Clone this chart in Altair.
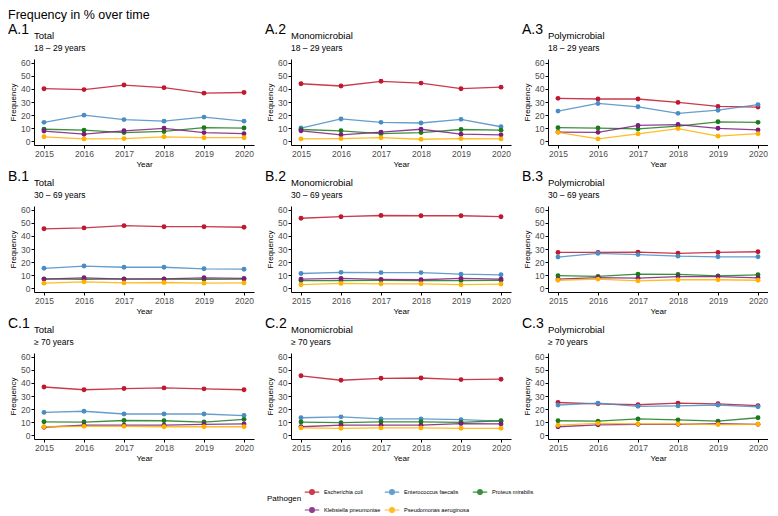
import altair as alt
import pandas as pd

years = [2015, 2016, 2017, 2018, 2019, 2020]
pathogens = ["Escherichia coli", "Enterococcus faecalis", "Proteus mirabilis",
             "Klebsiella pneumoniae", "Pseudomonas aeruginosa"]
colors = ["#C0182E", "#4A8CC4", "#1B7B1B", "#7A1E7A", "#FFB000"]

panel_labels = [["A.1", "A.2", "A.3"], ["B.1", "B.2", "B.3"], ["C.1", "C.2", "C.3"]]
types = ["Total", "Monomicrobial", "Polymicrobial"]
ages = ["18 – 29 years", "30 – 69 years", "≥ 70 years"]

# values per panel, order of pathogens as above
A1 = [[40.2, 39.5, 43.0, 41.0, 36.8, 37.3],
      [14.4, 19.9, 16.5, 15.3, 18.4, 15.3],
      [9.1, 8.4, 6.5, 7.4, 10.3, 10.0],
      [7.7, 5.3, 7.9, 9.8, 6.5, 5.7],
      [3.3, 1.7, 1.9, 3.3, 2.6, 2.6]]
A2 = [[44.0, 42.3, 45.9, 44.5, 40.2, 41.4],
      [10.0, 17.0, 14.4, 13.9, 16.7, 11.0],
      [8.9, 7.9, 5.7, 6.5, 8.9, 8.4],
      [7.9, 4.8, 6.9, 9.1, 5.3, 4.8],
      [1.7, 1.9, 2.6, 1.4, 1.9, 1.7]]
A3 = [[32.8, 32.3, 32.3, 29.7, 26.6, 26.1],
      [23.0, 28.9, 26.3, 21.3, 23.7, 28.0],
      [10.3, 10.0, 9.3, 11.5, 14.8, 14.4],
      [6.9, 6.7, 12.0, 12.7, 9.8, 8.6],
      [6.7, 1.7, 5.5, 9.6, 3.8, 5.7]]
B1 = [[45.5, 46.2, 47.9, 47.1, 47.1, 46.7],
      [15.2, 16.9, 16.0, 16.0, 14.8, 14.5],
      [7.1, 6.7, 7.1, 6.9, 6.7, 6.9],
      [6.9, 7.9, 6.9, 7.1, 7.9, 7.4],
      [3.8, 4.8, 4.0, 4.3, 3.8, 4.0]]
B2 = [[53.6, 54.8, 55.7, 55.5, 55.5, 54.8],
      [11.2, 12.1, 11.9, 11.9, 10.7, 10.2],
      [5.8, 5.8, 6.0, 5.8, 5.8, 6.0],
      [6.9, 7.4, 6.7, 6.4, 7.4, 6.9],
      [2.6, 3.6, 3.3, 3.3, 2.6, 3.1]]
B3 = [[27.4, 27.4, 27.6, 26.7, 27.4, 27.9],
      [23.8, 26.7, 25.7, 24.5, 24.0, 24.0],
      [9.5, 9.0, 10.7, 10.5, 9.3, 10.2],
      [6.9, 8.1, 7.6, 8.8, 8.8, 7.9],
      [6.0, 6.9, 5.5, 6.4, 6.4, 6.0]]
C1 = [[36.9, 34.8, 35.7, 36.2, 35.5, 34.8],
      [17.4, 18.3, 16.2, 16.2, 16.2, 15.0],
      [10.2, 10.0, 11.2, 11.0, 10.0, 12.1],
      [6.0, 7.6, 7.6, 7.6, 8.3, 8.6],
      [6.4, 6.7, 6.7, 6.4, 6.4, 6.4]]
C2 = [[45.5, 42.1, 43.6, 43.8, 42.6, 42.9],
      [13.3, 14.0, 12.4, 12.4, 11.9, 10.7],
      [10.0, 9.5, 10.2, 10.2, 9.8, 11.0],
      [6.4, 7.6, 7.6, 7.6, 8.8, 8.6],
      [5.5, 5.2, 5.5, 5.5, 5.2, 5.2]]
C3 = [[25.0, 24.0, 23.3, 24.5, 24.0, 22.6],
      [23.1, 24.5, 22.1, 22.4, 23.1, 21.7],
      [11.0, 10.7, 12.4, 11.7, 10.7, 13.3],
      [6.4, 7.9, 8.3, 8.3, 8.8, 8.3],
      [7.6, 9.0, 8.6, 8.6, 8.1, 8.3]]

grid = [[A1, A2, A3], [B1, B2, B3], [C1, C2, C3]]

FONT = "Liberation Sans"
PW, PH = 220, 86

color_scale = alt.Scale(domain=pathogens, range=colors)
sym_path = "M-1,0L1,0M0.33,0A0.33,0.33,0,1,1,-0.33,0A0.33,0.33,0,1,1,0.33,0Z"


def panel(r, c, show_legend):
    vals = grid[r][c]
    rows = []
    for pi, p in enumerate(pathogens):
        for yi, yr in enumerate(years):
            rows.append({"Year": yr, "Frequency": vals[pi][yi], "Pathogen": p,
                         "order": pi})
    df = pd.DataFrame(rows)
    legend = None
    if show_legend:
        legend = alt.Legend(
            title="Pathogen", orient="none", direction="horizontal", columns=3,
            legendX=233, legendY=425, titleOrient="left", titleAnchor="middle",
            titleFontSize=8, titleFontWeight="normal", titleFont=FONT,
            labelFont=FONT, labelFontSize=5.6, symbolType=sym_path, symbolSize=210,
            symbolStrokeWidth=1.2, columnPadding=1, rowPadding=5,
            titlePadding=2, labelOffset=4, labelColor="black", titleColor="black",
        )
    base = alt.Chart(df).encode(
        x=alt.X("Year:Q", scale=alt.Scale(domain=[2014.75, 2020.25], nice=False),
                axis=alt.Axis(values=years, format="d", title="Year")),
        y=alt.Y("Frequency:Q", scale=alt.Scale(domain=[-3, 63], nice=False),
                axis=alt.Axis(values=[0, 10, 20, 30, 40, 50, 60], title="Frequency")),
        color=alt.Color("Pathogen:N", scale=color_scale, legend=legend,
                        sort=pathogens),
        order=alt.Order("order:Q"),
    )
    lines = base.mark_line(strokeWidth=1.3, opacity=0.85)
    points = base.mark_point(filled=True, size=24, opacity=1)
    hdr = pd.DataFrame({"lab": [panel_labels[r][c]], "typ": [types[c]],
                        "age": [ages[r]]})
    lab = alt.Chart(hdr).mark_text(
        align="left", baseline="alphabetic", fontSize=14, font=FONT, color="black"
    ).encode(text="lab:N", x=alt.value(-26), y=alt.value(-25))
    typ = alt.Chart(hdr).mark_text(
        align="left", baseline="alphabetic", fontSize=9.5, font=FONT, color="black"
    ).encode(text="typ:N", x=alt.value(0), y=alt.value(-20))
    age = alt.Chart(hdr).mark_text(
        align="left", baseline="alphabetic", fontSize=8.5, font=FONT, color="black"
    ).encode(text="age:N", x=alt.value(0), y=alt.value(-8))
    return alt.layer(lines, points, lab, typ, age).properties(width=PW, height=PH)


rows = []
for r in range(3):
    rows.append(alt.hconcat(*[panel(r, c, r == 0 and c == 0) for c in range(3)],
                            spacing=11))

chart = alt.vconcat(*rows, spacing=1).resolve_scale(color="shared").properties(
    title=alt.TitleParams("Frequency in % over time", anchor="start", fontSize=12.5,
                          font=FONT, fontWeight="normal", color="black", offset=2),
    padding={"left": 0, "top": 0, "right": 0, "bottom": 0},
).configure_view(stroke=None).configure_axis(
    domainColor="black", tickColor="black", tickSize=3, labelFont=FONT,
    titleFont=FONT, labelFontSize=8.5, titleFontSize=8, labelColor="#4D4D4D",
    titleColor="black", grid=False, titleFontWeight="normal", labelPadding=1,
    titlePadding=3, domainWidth=1,
)

chart.save("out.html", embed_options={"renderer": "svg", "actions": False})
